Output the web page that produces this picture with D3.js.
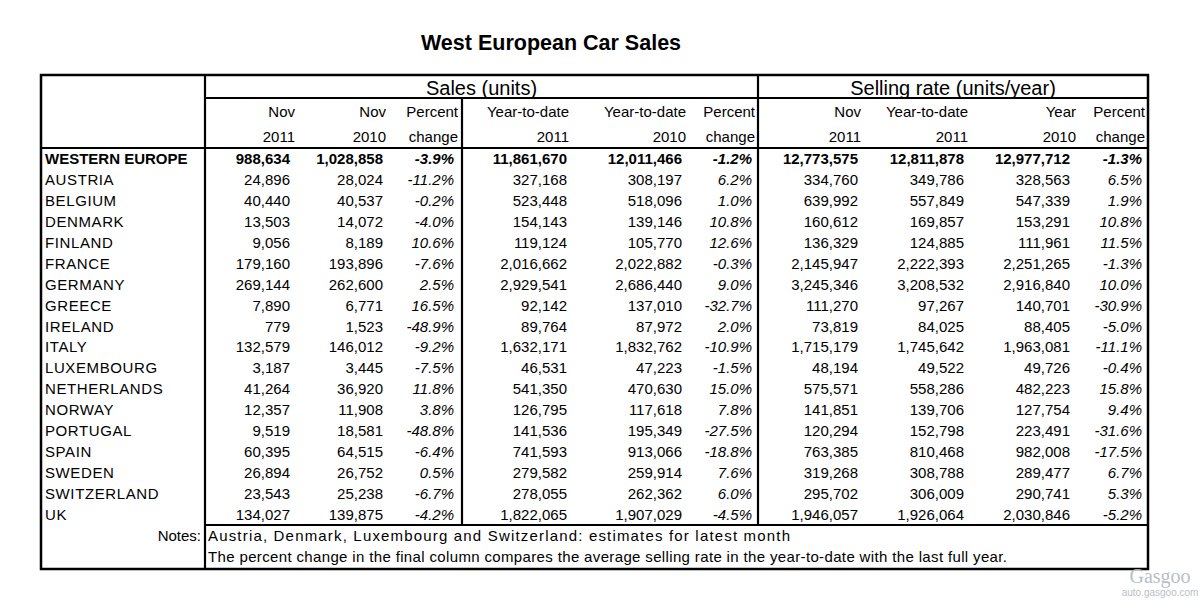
<!DOCTYPE html>
<html>
<head>
<meta charset="utf-8">
<script src="https://cdn.jsdelivr.net/npm/d3@7"></script>
<style>
  html, body { margin: 0; padding: 0; background: #fff; }
  svg { display: block; font-family: "Liberation Sans", Arial, sans-serif; }
</style>
</head>
<body>
<svg id="chart" width="1200" height="600"></svg>
<script>
// ---------------- DATA ----------------
const title = "West European Car Sales";
const groupHeaders = ["Sales (units)", "Selling rate (units/year)"];
const headerLine1 = ["Nov", "Nov", "Percent", "Year-to-date", "Year-to-date", "Percent", "Nov", "Year-to-date", "Year", "Percent"];
const headerLine2 = ["2011", "2010", "change", "2011", "2010", "change", "2011", "2011", "2010", "change"];

const countries = ["WESTERN EUROPE", "AUSTRIA", "BELGIUM", "DENMARK", "FINLAND", "FRANCE", "GERMANY", "GREECE", "IRELAND", "ITALY", "LUXEMBOURG", "NETHERLANDS", "NORWAY", "PORTUGAL", "SPAIN", "SWEDEN", "SWITZERLAND", "UK"];

const salesNov2011 = [988634, 24896, 40440, 13503, 9056, 179160, 269144, 7890, 779, 132579, 3187, 41264, 12357, 9519, 60395, 26894, 23543, 134027];
const salesNov2010 = [1028858, 28024, 40537, 14072, 8189, 193896, 262600, 6771, 1523, 146012, 3445, 36920, 11908, 18581, 64515, 26752, 25238, 139875];
const salesNovPct = [-3.9, -11.2, -0.2, -4.0, 10.6, -7.6, 2.5, 16.5, -48.9, -9.2, -7.5, 11.8, 3.8, -48.8, -6.4, 0.5, -6.7, -4.2];
const salesYtd2011 = [11861670, 327168, 523448, 154143, 119124, 2016662, 2929541, 92142, 89764, 1632171, 46531, 541350, 126795, 141536, 741593, 279582, 278055, 1822065];
const salesYtd2010 = [12011466, 308197, 518096, 139146, 105770, 2022882, 2686440, 137010, 87972, 1832762, 47223, 470630, 117618, 195349, 913066, 259914, 262362, 1907029];
const salesYtdPct = [-1.2, 6.2, 1.0, 10.8, 12.6, -0.3, 9.0, -32.7, 2.0, -10.9, -1.5, 15.0, 7.8, -27.5, -18.8, 7.6, 6.0, -4.5];
const rateNov2011 = [12773575, 334760, 639992, 160612, 136329, 2145947, 3245346, 111270, 73819, 1715179, 48194, 575571, 141851, 120294, 763385, 319268, 295702, 1946057];
const rateYtd2011 = [12811878, 349786, 557849, 169857, 124885, 2222393, 3208532, 97267, 84025, 1745642, 49522, 558286, 139706, 152798, 810468, 308788, 306009, 1926064];
const rateYear2010 = [12977712, 328563, 547339, 153291, 111961, 2251265, 2916840, 140701, 88405, 1963081, 49726, 482223, 127754, 223491, 982008, 289477, 290741, 2030846];
const ratePct = [-1.3, 6.5, 1.9, 10.8, 11.5, -1.3, 10.0, -30.9, -5.0, -11.1, -0.4, 15.8, 9.4, -31.6, -17.5, 6.7, 5.3, -5.2];

const notesLabel = "Notes:";
const notes = [
  "Austria, Denmark, Luxembourg and Switzerland: estimates for latest month",
  "The percent change in the final column compares the average selling rate in the year-to-date with the last full year."
];

// ---------------- LAYOUT ----------------
const columns = [salesNov2011, salesNov2010, salesNovPct, salesYtd2011, salesYtd2010, salesYtdPct, rateNov2011, rateYtd2011, rateYear2010, ratePct];
const isPct = [false, false, true, false, false, true, false, false, false, true];
const dataRight = [290, 383, 454, 567, 682, 752, 858, 964, 1070, 1142];
const headRight = [295, 386, 458, 569, 686, 755, 861, 968, 1076, 1145];
const notesWidth = [582, 799];

const L = 41, R = 1148, T = 75, B = 569;
const xLabel = 205, xMid = 462, xSplit = 758;
const yHead1 = 98, yHead2 = 148, yNotes = 525;

const svg = d3.select("#chart");
const locale = d3.formatLocale({ decimal: ".", thousands: ",", grouping: [3], currency: ["", ""], minus: "-" });
const fmtNum = locale.format(",");
const fmt1 = locale.format(".1f");
const fmtPct = v => fmt1(v) + "%";

const yRow = d3.scaleLinear().domain([0, countries.length - 1]).range([164, 520]);

// title
svg.append("text")
  .attr("x", 551).attr("y", 50)
  .attr("text-anchor", "middle")
  .attr("font-size", 21.5).attr("font-weight", "bold")
  .attr("fill", "#000")
  .text(title);

// group headers
svg.append("text").attr("x", (xLabel + xSplit) / 2).attr("y", 95)
  .attr("text-anchor", "middle").attr("font-size", 20).text(groupHeaders[0]);
svg.append("text").attr("x", (xSplit + R) / 2).attr("y", 95)
  .attr("text-anchor", "middle").attr("font-size", 20).text(groupHeaders[1]);

// column headers
const hdr = svg.append("g").attr("font-size", 15).attr("text-anchor", "end");
headerLine1.forEach((t, i) => hdr.append("text").attr("x", headRight[i]).attr("y", 117).text(t));
headerLine2.forEach((t, i) => hdr.append("text").attr("x", headRight[i]).attr("y", 142).text(t));

// rows
const rows = svg.append("g").attr("font-size", 15).attr("fill", "#000");
countries.forEach((c, r) => {
  const y = yRow(r);
  const bold = r === 0;
  rows.append("text").attr("x", 45).attr("y", y)
    .attr("font-weight", bold ? "bold" : "normal")
    .attr("letter-spacing", bold ? 0 : 0.6)
    .text(c);
  columns.forEach((col, j) => {
    rows.append("text")
      .attr("x", dataRight[j]).attr("y", y)
      .attr("text-anchor", "end")
      .attr("font-weight", bold ? "bold" : "normal")
      .attr("font-style", isPct[j] ? "italic" : "normal")
      .text(isPct[j] ? fmtPct(col[r]) : fmtNum(col[r]));
  });
});

// notes
svg.append("text").attr("x", 201).attr("y", 541).attr("font-size", 15)
  .attr("text-anchor", "end").text(notesLabel);
notes.forEach((n, i) => {
  svg.append("text").attr("x", 208).attr("y", 541 + i * 21)
    .attr("font-size", 15)
    .attr("textLength", notesWidth[i]).attr("lengthAdjust", "spacing")
    .text(n);
});

// grid lines
const lines = [
  [xLabel, T, xLabel, B],
  [xMid, yHead1, xMid, yNotes],
  [xSplit, T, xSplit, yNotes],
  [xLabel, yHead1, R, yHead1],
  [L, yHead2, R, yHead2],
  [xLabel, yNotes, R, yNotes]
];
svg.append("g").selectAll("line").data(lines).join("line")
  .attr("x1", d => d[0]).attr("y1", d => d[1])
  .attr("x2", d => d[2]).attr("y2", d => d[3])
  .attr("stroke", "#000").attr("stroke-width", 2.2);

svg.append("rect")
  .attr("x", L).attr("y", T).attr("width", R - L).attr("height", B - T)
  .attr("fill", "none").attr("stroke", "#000").attr("stroke-width", 2.5);

// watermark
const wm = svg.append("g").attr("fill", "#b8c0c8").attr("text-anchor", "middle");
wm.append("text").attr("x", 1160).attr("y", 583).attr("font-size", 20)
  .attr("font-family", "Liberation Serif, serif").text("Gasgoo");
wm.append("text").attr("x", 1160).attr("y", 596).attr("font-size", 10).text("auto.gasgoo.com");
</script>
</body>
</html>
